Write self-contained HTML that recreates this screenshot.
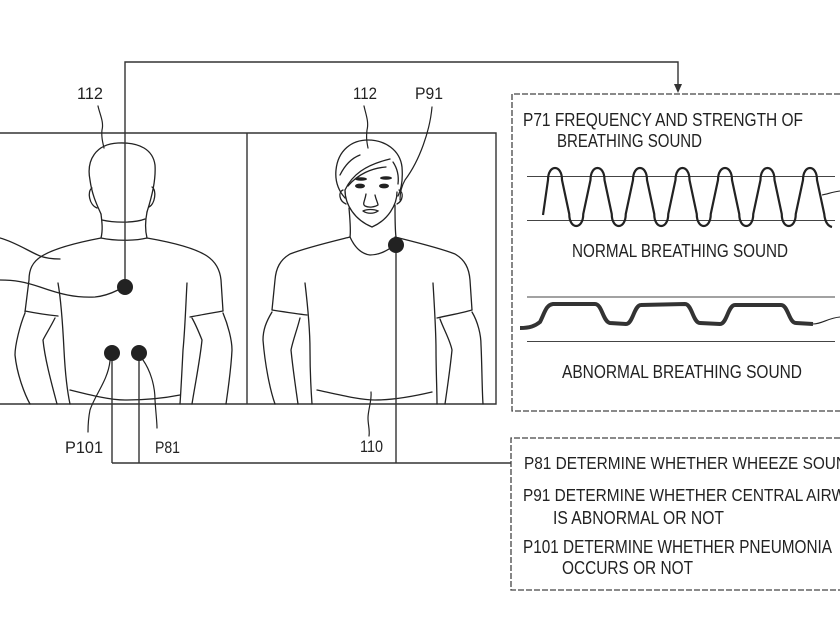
<!DOCTYPE html>
<html>
<head>
<meta charset="utf-8">
<style>
  html, body { margin: 0; padding: 0; background: #fff; }
  body { width: 840px; height: 623px; overflow: hidden; }
  svg { display: block; }
  text { font-family: "Liberation Sans", "DejaVu Sans", sans-serif; font-size: 18px; fill: #222; }
  text.lbl { font-size: 17px; }
</style>
</head>
<body>
<svg width="840" height="623" viewBox="0 0 840 623" xmlns="http://www.w3.org/2000/svg">
  <rect width="840" height="623" fill="#fff"/>

  <!-- Panels -->
  <g fill="none" stroke="#333" stroke-width="1.4">
    <path d="M0,133 H496 V404 H0"/>
    <path d="M247,133 V404"/>
  </g>

  <!-- Left figure (back view) -->
  <g fill="none" stroke="#222" stroke-width="1.3" stroke-linecap="round">
    <path d="M101,214 C97,205 92,195 90,180 C86,160 96,144 118,143 C140,142 153,150 155,165 C156,180 152,196 147,212"/>
    <path d="M92,188 C87,191 89,205 97,208"/>
    <path d="M152,187 C157,190 155,204 149,207"/>
    <path d="M101,214 C102,222 103,230 101,238"/>
    <path d="M147,212 C145,222 145,230 147,238"/>
    <path d="M102,220 C115,223 135,223 145,219"/>
    <path d="M101,238 C115,241 135,241 147,238"/>
    <path d="M101,238 C80,242 55,248 42,256 C32,262 29,270 29,280 L25,312"/>
    <path d="M25,311 C35,313 48,315 58,316"/>
    <path d="M25,313 C20,325 15,345 15,355 C17,375 25,395 30,404"/>
    <path d="M55,318 C50,328 46,334 43,340 C45,360 52,385 57,404"/>
    <path d="M58,283 C61,300 63,330 64,350 C65,370 67,390 70,404"/>
    <path d="M147,238 C170,242 195,248 207,256 C216,262 220,270 221,280 L223,311"/>
    <path d="M190,317 C200,315 212,313 223,311"/>
    <path d="M223,313 C228,325 232,340 232,350 C231,370 228,390 226,404"/>
    <path d="M192,318 C196,325 200,335 202,340 C200,360 195,385 192,404"/>
    <path d="M187,283 C186,300 185,330 183,350 C182,370 181,390 180,404"/>
    <path d="M70,390 C90,395 110,400 125,400 C145,400 165,398 180,395"/>
    <!-- leaders on left edge -->
    <path d="M0,238 C15,242 30,252 40,256 C48,259 55,259 60,259"/>
    <path d="M0,280 C15,280 25,282 40,287 C60,294 75,298 95,297 C105,296 112,293 118,290"/>
  </g>

  <!-- Right figure (front view) -->
  <g fill="none" stroke="#222" stroke-width="1.3" stroke-linecap="round">
    <path d="M345,198 C338,190 335,180 336,170 C338,150 352,140 368,140 C385,140 400,150 402,167 C403,180 401,190 398,196"/>
    <path d="M345,190 C352,175 365,165 390,159"/>
    <path d="M348,186 C358,174 372,168 386,167"/>
    <path d="M340,175 C345,165 352,158 360,155"/>
    <path d="M393,162 C397,168 399,176 398,184"/>
    <path d="M345,190 C345,205 355,220 372,227 C388,220 397,205 397,192"/>
    <path d="M343,190 C338,192 339,201 346,204"/>
    <path d="M399,190 C404,192 403,201 397,204"/>
    <path d="M366,194 C365,201 362,204 365,206 C369,208 375,207 378,205 M375,195 C376,200 378,203 378,205"/>
    <path d="M363,211 C367,209 374,209 378,211 C374,214 367,214 363,211"/>
    <path d="M349,208 C350,220 351,230 350,237"/>
    <path d="M395,205 C395,220 395,230 396,237"/>
    <path d="M350,237 C355,248 362,254 370,255 C380,255 388,250 395,245"/>
    <path d="M350,237 C330,242 305,248 290,254 C280,260 276,268 275,280 L272,310"/>
    <path d="M272,310 C285,312 298,314 307,315"/>
    <path d="M272,312 C266,322 263,330 263,340 C265,365 270,390 275,404"/>
    <path d="M300,318 C297,330 293,340 291,350 C293,370 296,390 298,404"/>
    <path d="M305,283 C307,300 310,330 310,350 C310,370 311,390 312,404"/>
    <path d="M395,237 C415,242 440,248 455,254 C465,260 469,268 470,280 L472,310"/>
    <path d="M437,318 C450,315 462,313 472,310"/>
    <path d="M472,312 C478,322 481,335 481,345 C482,365 482,390 483,404"/>
    <path d="M440,319 C444,330 450,340 452,350 C450,370 447,390 445,404"/>
    <path d="M433,283 C434,300 436,330 436,350 C436,370 437,390 437,404"/>
    <path d="M317,390 C340,395 360,400 375,400 C395,400 415,396 432,392"/>
  </g>
  <g fill="#222">
    <ellipse cx="360" cy="186" rx="5" ry="2.4"/>
    <ellipse cx="384" cy="186" rx="5" ry="2.4"/>
    <ellipse cx="361" cy="179" rx="6" ry="1.8"/>
    <ellipse cx="386" cy="178" rx="6" ry="1.8"/>
  </g>

  <!-- Label leaders -->
  <g fill="none" stroke="#222" stroke-width="1.2" stroke-linecap="round">
    <path d="M98,106 C100,115 104,122 102,130 C101,138 103,143 104,148"/>
    <path d="M364,106 C366,115 369,122 367,130 C366,138 367,143 368,148"/>
    <path d="M432,107 C430,130 420,160 405,180 C401,187 400,194 400,200"/>
    <path d="M110,361 C108,380 95,395 90,410 C88,420 88,428 88,432"/>
    <path d="M143,360 C150,370 155,385 155,400 C156,415 157,422 157,428"/>
    <path d="M371,392 C372,400 368,410 368,418 C368,425 370,430 369,436"/>
  </g>

  <!-- Connectors -->
  <g fill="none" stroke="#333" stroke-width="1.4">
    <path d="M125,287 V62 H678 V86"/>
    <path d="M112,353 V463"/>
    <path d="M139,353 V463"/>
    <path d="M396,245 V463"/>
    <path d="M112,463 H511"/>
  </g>
  <polygon points="674,84 682,84 678,93" fill="#333"/>

  <!-- Dots -->
  <g fill="#222">
    <circle cx="125" cy="287" r="8"/>
    <circle cx="112" cy="353" r="8"/>
    <circle cx="139" cy="353" r="8"/>
    <circle cx="396" cy="245" r="8"/>
  </g>

  <!-- Dashed boxes -->
  <g fill="none" stroke="#444" stroke-width="1.3" stroke-dasharray="6 2">
    <path d="M848,94 H512 V411 H848"/>
    <path d="M848,438 H511 V590 H848"/>
  </g>

  <!-- Waveform reference lines -->
  <g stroke="#444" stroke-width="1.1">
    <line x1="527" y1="176.5" x2="835" y2="176.5"/>
    <line x1="527" y1="220.5" x2="835" y2="220.5"/>
    <line x1="527" y1="297" x2="835" y2="297"/>
    <line x1="527" y1="341.5" x2="835" y2="341.5"/>
  </g>

  <!-- Normal wave (rounded square wave) -->
  <path fill="none" stroke="#222" stroke-width="2.2" stroke-linejoin="round" d="M543,215
    L548,180 C548,164 562,164 562,180
    L569.25,214 C569.25,230 583.25,230 583.25,214
    L590.5,180 C590.5,164 604.5,164 604.5,180
    L611.75,214 C611.75,230 625.75,230 625.75,214
    L633,180 C633,164 647,164 647,180
    L654.25,214 C654.25,230 668.25,230 668.25,214
    L675.5,180 C675.5,164 689.5,164 689.5,180
    L696.75,214 C696.75,230 710.75,230 710.75,214
    L718,180 C718,164 732,164 732,180
    L739.25,214 C739.25,230 753.25,230 753.25,214
    L760.5,180 C760.5,164 774.5,164 774.5,180
    L781.75,214 C781.75,230 795.75,230 795.75,214
    L803,180 C803,164 817,164 817,180
    L824.25,214 C825,222 828,226 832,227"/>
  <path fill="none" stroke="#222" stroke-width="1.1" d="M822,195 C828,194 832,192 840,191"/>

  <!-- Abnormal wave -->
  <path fill="none" stroke="#333" stroke-width="4" stroke-linejoin="round" d="M520,328 C530,328 535,326 540,322 C545,312 546,305 553,304 L595,304 C602,304 603,322 610,323 L626,324 C633,324 634,305 641,305 L685,304 C692,304 693,323 700,323 L720,324 C727,324 728,305 735,305 L781,305 C788,305 789,323 796,323 L813,324"/>
  <path fill="none" stroke="#222" stroke-width="1.1" d="M813,324 C822,324 828,318 840,317"/>

  <!-- Text -->
  <text class="lbl" x="77" y="99" textLength="26" lengthAdjust="spacingAndGlyphs">112</text>
  <text class="lbl" x="353" y="99" textLength="24" lengthAdjust="spacingAndGlyphs">112</text>
  <text class="lbl" x="415" y="99" textLength="28" lengthAdjust="spacingAndGlyphs">P91</text>
  <text class="lbl" x="65" y="453" textLength="38" lengthAdjust="spacingAndGlyphs">P101</text>
  <text class="lbl" x="155" y="453" textLength="25" lengthAdjust="spacingAndGlyphs">P81</text>
  <text class="lbl" x="360" y="452" textLength="23" lengthAdjust="spacingAndGlyphs">110</text>

  <text x="523" y="126" textLength="280" lengthAdjust="spacingAndGlyphs">P71 FREQUENCY AND STRENGTH OF</text>
  <text x="557" y="147" textLength="145" lengthAdjust="spacingAndGlyphs">BREATHING SOUND</text>
  <text x="572" y="257" textLength="216" lengthAdjust="spacingAndGlyphs">NORMAL BREATHING SOUND</text>
  <text x="562" y="378" textLength="240" lengthAdjust="spacingAndGlyphs">ABNORMAL BREATHING SOUND</text>

  <text transform="translate(524,469) scale(0.855,1)">P81 DETERMINE WHETHER WHEEZE SOUND IS PRESENT OR NOT</text>
  <text transform="translate(523,501) scale(0.855,1)">P91 DETERMINE WHETHER CENTRAL AIRWAY</text>
  <text x="553" y="524" textLength="171" lengthAdjust="spacingAndGlyphs">IS ABNORMAL OR NOT</text>
  <text x="523" y="553" textLength="309" lengthAdjust="spacingAndGlyphs">P101 DETERMINE WHETHER PNEUMONIA</text>
  <text x="562" y="574" textLength="131" lengthAdjust="spacingAndGlyphs">OCCURS OR NOT</text>
</svg>
</body>
</html>
